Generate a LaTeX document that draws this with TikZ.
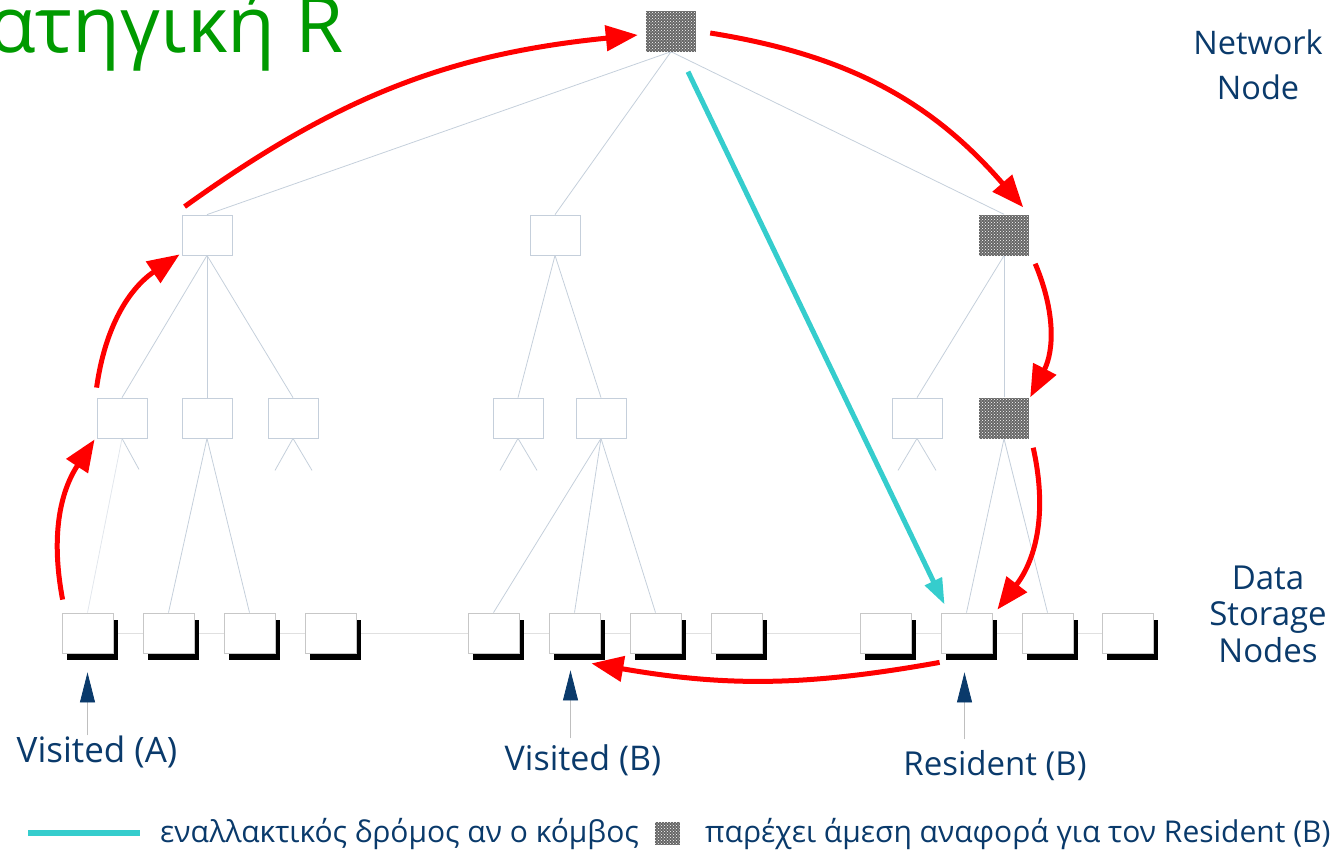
\documentclass[tikz,border=0pt]{standalone}
\usepackage{fontspec}
\setmainfont{Open Sans}
\usetikzlibrary{arrows.meta,patterns,shadows}
\definecolor{navy}{HTML}{0A3A6B}
\definecolor{treec}{HTML}{C5CFDB}
\definecolor{cyanl}{HTML}{35CDCD}
\definecolor{ttlgreen}{HTML}{009A00}
\pgfdeclarelayer{bg}
\pgfsetlayers{bg,main}
\begin{document}
\begin{tikzpicture}[x=1pt,y=-1pt,
  innerbox/.style={draw=treec, line width=0.8pt, fill=white, minimum width=50pt, minimum height=40pt, inner sep=0pt},
  hotbox/.style={fill=black!60, postaction={pattern=crosshatch dots, pattern color=white}, minimum width=50pt, minimum height=41pt, inner sep=0pt},
  leafbox/.style={draw=black!22, line width=0.8pt, fill=white, minimum width=51pt, minimum height=40pt, inner sep=0pt,
     drop shadow={shadow xshift=5pt, shadow yshift=-7pt, fill=black, opacity=1}},
  treeline/.style={draw=treec, line width=0.8pt},
  redarrow/.style={draw=red, line width=5pt, -{Triangle[length=32pt,width=25pt]}},
  cyanarrow/.style={draw=cyanl, line width=5pt, -{Triangle[length=26pt,width=18pt]}},
  pointer/.style={draw=black!25, line width=0.8pt, -{Triangle[length=30pt,width=15pt,color=navy,fill=navy]}},
  lbl/.style={text=navy, font=\fontsize{33}{40}\selectfont, inner sep=0pt, align=center}
]
\useasboundingbox (0,0) rectangle (1343,854);

% title
\node[anchor=base west, text=ttlgreen, font=\fontsize{78}{80}\selectfont, inner sep=0pt] (title) at (-12,52) {ατηγική R};

% nodes
\node[hotbox] (top) at (671,31) {};
\node[innerbox] (l1a) at (207,235) {};
\node[innerbox] (l1b) at (555,235) {};
\node[hotbox] (l1c) at (1004,235) {};

\node[innerbox] (l2a) at (122,418) {};
\node[innerbox] (l2b) at (207,418) {};
\node[innerbox] (l2c) at (293,418) {};
\node[innerbox] (l2d) at (518,418) {};
\node[innerbox] (l2e) at (601,418) {};
\node[innerbox] (l2f) at (917,418) {};
\node[hotbox] (l2g) at (1004,418) {};

\foreach \i/\x in {1/87.5,2/168.5,3/249.5,4/330.5,5/493.5,6/574.5,7/655.5,8/736.5,9/885.5,10/966.5,11/1047.5,12/1127.5}
  \node[leafbox] (d\i) at (\x,633) {};

% tree lines
\begin{pgfonlayer}{bg}
\draw[draw=black!12, line width=0.8pt] (d1.center) -- (d12.center);
\draw[treeline] (top.south) -- (l1a.north);
\draw[treeline] (top.south) -- (l1b.north);
\draw[treeline] (top.south) -- (l1c.north);
\foreach \n in {l2a,l2b,l2c} \draw[treeline] (l1a.south) -- (\n.north);
\foreach \n in {l2d,l2e} \draw[treeline] (l1b.south) -- (\n.north);
\foreach \n in {l2f,l2g} \draw[treeline] (l1c.south) -- (\n.north);
\draw[treeline, draw=treec!50] (l2a.south) -- (d1.north);
\draw[treeline] (l2a.south) -- ++(17,31);
\draw[treeline] (l2b.south) -- (d2.north);
\draw[treeline] (l2b.south) -- (d3.north);
\draw[treeline] (l2c.south) -- ++(-18,32);
\draw[treeline] (l2c.south) -- ++(19,32);
\draw[treeline] (l2d.south) -- ++(-18,32);
\draw[treeline] (l2d.south) -- ++(19,32);
\draw[treeline] (l2e.south) -- (d5.north);
\draw[treeline] (l2e.south) -- (d6.north);
\draw[treeline] (l2e.south) -- (d7.north);
\draw[treeline] (l2f.south) -- ++(-19,32);
\draw[treeline] (l2f.south) -- ++(19,32);
\draw[treeline] (l2g.south) -- (d10.north);
\draw[treeline] (l2g.south) -- (d11.north);
\end{pgfonlayer}

% red path
\draw[redarrow] ([shift={(1,-13)}]d1.north west) to[bend left=22] ([shift={(-2,1)}]l2a.south west);
\draw[redarrow] ([shift={(0,-10)}]l2a.north west) to[bend left=24] ([shift={(-2,-1)}]l1a.south west);
\draw[redarrow] ([shift={(3,-8)}]l1a.north west) to[bend left=15] ([shift={(-8,4)}]top.west);
\draw[redarrow] ([shift={(14,2)}]top.east) to[bend left=20] ([shift={(-6,-7)}]l1c.north east);
\draw[redarrow] ([shift={(6,8)}]l1c.south east) to[bend left=25] ([shift={(1,0)}]l2g.north east);
\draw[redarrow] ([shift={(4,9)}]l2g.south east) to[bend left=25] ([shift={(5,-3)}]d10.north east);
\draw[redarrow] ([shift={(-1,9)}]d10.south west) to[bend left=10] ([shift={(-9,10)}]d6.south east);

% alternative path
\draw[cyanarrow] ([shift={(17,20)}]top.south) -- ([shift={(4,-8)}]d10.north west);

% labels
\node[lbl, font=\fontsize{35}{40}\selectfont] (visA) at (97,752) {Visited (A)};
\node[lbl, font=\fontsize{34}{40}\selectfont] (visB) at (583,760) {Visited (B)};
\node[lbl] (resB) at (995,766) {Resident (B)};
\draw[pointer] ([shift={(0,82)}]d1.south) -- ([shift={(0,19)}]d1.south);
\draw[pointer] ([shift={(-4,85)}]d6.south) -- ([shift={(-4,17)}]d6.south);
\draw[pointer] ([shift={(-2,86)}]d10.south) -- ([shift={(-2,19)}]d10.south);

\node[lbl, font=\fontsize{32.5}{45}\selectfont] (netnode) at (1258,65) {Network\\Node};
\node[lbl, font=\fontsize{33}{36.5}\selectfont] (datanode) at (1268,614) {Data\\Storage\\Nodes};

% legend
\coordinate (legA) at (28,833);
\coordinate (legB) at (140,833);
\draw[draw=cyanl, line width=6pt] (legA) -- (legB);
\node[lbl, anchor=west, font=\fontsize{30}{34}\selectfont] (legtext1) at (160,834) {εναλλακτικός δρόμος αν ο κόμβος};
\node[hotbox, minimum width=25pt, minimum height=23pt] (legsq) at (667,833) {};
\node[lbl, anchor=west, font=\fontsize{30}{34}\selectfont] (legtext2) at (705,834) {παρέχει άμεση αναφορά για τον Resident (B)};
\end{tikzpicture}
\end{document}
